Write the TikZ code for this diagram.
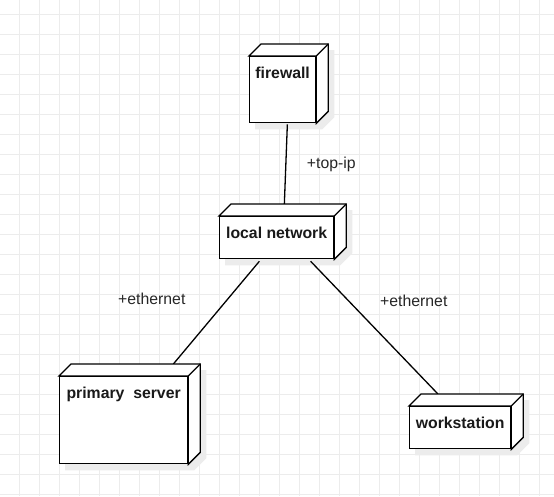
\documentclass[tikz,border=0pt]{standalone}
\usepackage{fontspec}
\setmainfont{Liberation Sans}
\usetikzlibrary{calc}
\pgfdeclarelayer{background}
\pgfsetlayers{background,main}
\definecolor{gridc}{RGB}{236,236,236}
\definecolor{shadowc}{RGB}{236,236,236}
\tikzset{
  front/.style={draw=black, fill=white, line width=1.3pt, rectangle, inner sep=0pt,
    anchor=north west, text height=22pt, font=\fontsize{15.8}{19}\selectfont\bfseries, text=black!90},
  face/.style={draw=black, fill=white, line width=1.3pt, line join=miter},
  conn/.style={draw=black, line width=1.3pt},
  lbl/.style={anchor=base west, inner sep=0pt, font=\fontsize{15.8}{19}\selectfont, text=black!85},
  gridline/.style={draw=gridc, line width=1pt}
}
\newcommand{\cubeshadow}[1]{%
  \fill[shadowc] ($(#1.north west)+(6,6)$) -- ++(12,-12) -- ($(#1.north east)+(18,-6)$)
    -- ($(#1.south east)+(18,-6)$) -- ($(#1.south east)+(6,6)$) -- ($(#1.south west)+(6,6)$) -- cycle;}
\newcommand{\cubefaces}[1]{%
  \draw[face] (#1.north west) -- ++(12,-12) -- ($(#1.north east)+(12,-12)$)
    -- ($(#1.south east)+(12,-12)$) -- (#1.south east) -- (#1.north east) -- cycle;
  \draw[face] (#1.north east) -- ++(12,-12);}
\begin{document}
\begin{tikzpicture}[x=1pt,y=-1pt]
\useasboundingbox (0,0) rectangle (554,496);
% nodes (front faces)
\node[front, minimum width=66pt, minimum height=66pt, text depth=44pt] (fw) at (249,56) {firewall};
\node[front, minimum width=114pt, minimum height=42pt, text depth=20pt] (ln) at (219,216) {local network};
\node[front, minimum width=128pt, minimum height=87pt, text depth=65pt] (ps) at (59,376) {primary\ \ server};
\node[front, minimum width=101pt, minimum height=42pt, text depth=20pt] (ws) at (409,406) {workstation};
% labels
\node[lbl] (l1) at (306.7,168.5) {+top-ip};
\node[lbl] (l2) at (118,304) {+ethernet};
\node[lbl] (l3) at (380,306.5) {+ethernet};
\begin{pgfonlayer}{background}
% grid
\foreach \k in {0,...,26} {\draw[gridline] (19.5+20*\k,0) -- (19.5+20*\k,496);}
\foreach \k in {0,...,24} {\draw[gridline] (0,14+20*\k) -- (554,14+20*\k);}
% shadows
\cubeshadow{fw}\cubeshadow{ln}\cubeshadow{ps}\cubeshadow{ws}
% connectors
\draw[conn] ($(fw.south)+(4.7,1)$) -- ($(ln.north)+(7.7,-12)$);
\draw[conn] ($(ln.south)+(-17.3,2)$) -- ($(ps.north)+(49.7,-12)$);
\draw[conn] ($(ln.south)+(34,2)$) -- ($(ws.north)+(-22.2,-12)$);
% top and side faces
\cubefaces{fw}\cubefaces{ln}\cubefaces{ps}\cubefaces{ws}
\end{pgfonlayer}
\end{tikzpicture}
\end{document}
